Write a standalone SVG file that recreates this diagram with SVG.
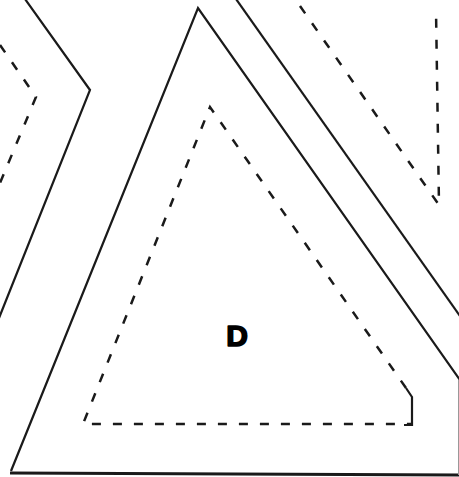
<svg xmlns="http://www.w3.org/2000/svg" width="459" height="477" viewBox="0 0 459 477">
<style>
.s{fill:none;stroke:#1a1a1a;stroke-width:2.2;stroke-linejoin:miter}
.d{fill:none;stroke:#1a1a1a;stroke-width:2.5;stroke-dasharray:9 12}
.t{font-family:"Liberation Sans",Arial,sans-serif;font-weight:900;font-size:30px;fill:#000;stroke:#000;stroke-width:1.6;stroke-linejoin:round}
</style>
<rect width="459" height="477" fill="#fff"/>
<g id="left-region">
<polyline class="s" points="25,-1 90,90 -1,318"/>
<polyline class="d" points="0,45 36,97 0,183"/>
</g>
<g id="upper-right-region">
<line class="s" x1="236" y1="-1" x2="460" y2="316"/>
<polyline class="d" points="300,6 439,205 436,10"/>
</g>
<g id="D">
<polyline class="s" points="460,380 198,8 11,471"/>
<line x1="10" y1="473" x2="459" y2="475" stroke="#1a1a1a" stroke-width="3"/>
<line x1="458.5" y1="380" x2="458.5" y2="475" stroke="#999" stroke-width="1"/>
<polyline class="d" points="406,388 210,107 83,424 412,424"/>
<polyline class="s" points="406,388 412,397 412,425 404,425"/>
<text class="t" x="237" y="346" text-anchor="middle">D</text>
</g>
</svg>
